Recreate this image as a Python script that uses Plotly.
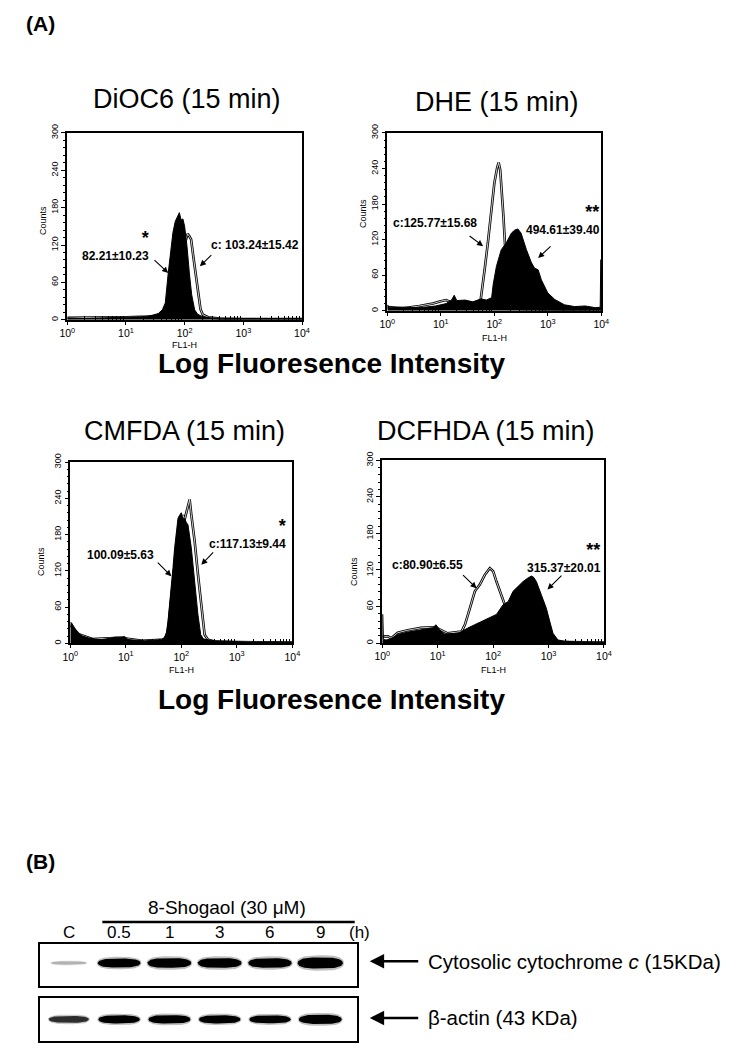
import numpy as np
import plotly.graph_objects as go

# ---------------- (A) flow cytometry histograms ----------------
# positions are log10(FL1-H), values are counts read off the picture

dioc6_ctrl_log = [0, 0.5, 1.0, 1.4, 1.6, 1.7, 1.76, 1.82, 1.88, 1.94, 1.98, 2.02, 2.05, 2.08,
                  2.11, 2.15, 2.19, 2.23, 2.27, 2.31, 2.4, 2.6, 3.0, 4.0]
dioc6_ctrl_cnt = [3, 3, 4, 5, 8, 15, 45, 90, 118, 130, 140, 128, 138, 134,
                  129, 100, 72, 45, 17, 8, 4, 2, 1, 1]
dioc6_trt_log = [0, 0.3, 0.6, 0.9, 1.1, 1.3, 1.45, 1.55, 1.62, 1.67, 1.72, 1.76, 1.8, 1.84,
                 1.88, 1.91, 1.94, 1.97, 2.0, 2.04, 2.08, 2.12, 2.17, 2.22, 2.3, 2.45, 2.7,
                 3.0, 3.5, 4.0]
dioc6_trt_cnt = [3, 2, 3, 4, 4, 5, 7, 10, 16, 27, 75, 112, 140, 158,
                 165, 172, 160, 162, 150, 118, 75, 40, 16, 9, 5, 3, 2,
                 2, 1, 2]

dhe_ctrl_log = [0, 0.3, 0.6, 0.85, 1.0, 1.1, 1.2, 1.35, 1.5, 1.65, 1.74, 1.78, 1.82, 1.88,
                1.94, 2.0, 2.05, 2.08, 2.11, 2.14, 2.17, 2.2, 2.23, 2.26, 2.3, 2.36, 2.5,
                3.0, 4.0]
dhe_ctrl_cnt = [6, 4, 8, 12, 16, 18, 14, 12, 12, 12, 15, 40, 70, 115,
                170, 215, 240, 250, 238, 205, 160, 112, 72, 45, 15, 5, 3,
                2, 1]
dhe_trt_log = [0, 0.05, 0.3, 0.6, 0.9, 1.1, 1.2, 1.25, 1.3, 1.45, 1.6, 1.75, 1.85, 1.95,
               1.98, 2.04, 2.13, 2.22, 2.32, 2.38, 2.44, 2.5, 2.6, 2.69, 2.75, 2.82, 2.88,
               3.0, 3.13, 3.31, 3.5, 3.7, 3.9, 3.98, 3.99, 4.0]
dhe_trt_cnt = [10, 5, 6, 5, 8, 12, 18, 26, 17, 18, 15, 20, 18, 22,
               45, 75, 103, 114, 131, 136, 138, 131, 103, 82, 72, 69, 52,
               30, 19, 10, 7, 8, 5, 6, 86, 86]

cmfda_ctrl_log = [0, 0.15, 0.4, 0.9, 1.3, 1.7, 1.76, 1.82, 1.88, 1.94, 2.0, 2.03, 2.06, 2.1,
                  2.15, 2.18, 2.24, 2.3, 2.36, 2.42, 2.48, 2.6, 3.0, 4.0]
cmfda_ctrl_cnt = [30, 15, 7, 9, 4, 6, 20, 70, 130, 185, 205, 212, 205, 222,
                  238, 213, 169, 114, 64, 14, 6, 3, 2, 1]
cmfda_trt_log = [0, 0.02, 0.08, 0.14, 0.22, 0.32, 0.45, 0.56, 0.7, 0.8, 0.9, 0.98, 1.04, 1.2,
                 1.34, 1.5, 1.64, 1.7, 1.73, 1.76, 1.79, 1.82, 1.85, 1.88, 1.91, 1.94, 1.97,
                 2.0, 2.03, 2.06, 2.09, 2.12, 2.18, 2.24, 2.3, 2.35, 2.4, 2.6, 2.84, 3.2,
                 3.6, 4.0]
cmfda_trt_cnt = [34, 34, 25, 17, 12, 9, 7, 6, 8, 10, 10, 11, 6, 5,
                 4, 5, 6, 10, 17, 36, 62, 92, 125, 158, 185, 207, 212,
                 216, 205, 207, 200, 196, 158, 103, 47, 14, 7, 4, 3, 2,
                 2, 1]

dcfhda_ctrl_log = [0, 0.04, 0.1, 0.16, 0.28, 0.46, 0.7, 0.9, 1.0, 1.18, 1.43, 1.49, 1.58, 1.67,
                   1.76, 1.85, 1.94, 2.0, 2.06, 2.15, 2.21, 2.27, 2.35, 2.45, 2.6, 2.8, 3.0,
                   4.0]
dcfhda_ctrl_cnt = [10, 11, 11, 8, 17, 21, 25, 26, 24, 16, 19, 30, 57, 85,
                   96, 112, 123, 118, 101, 79, 63, 52, 35, 18, 8, 4, 2,
                   1]
dcfhda_trt_log = [0, 0.01, 0.02, 0.07, 0.16, 0.28, 0.46, 0.58, 0.76, 0.91, 0.97, 1.03, 1.12, 1.25,
                  1.37, 1.55, 1.73, 1.91, 2.06, 2.18, 2.27, 2.36, 2.45, 2.54, 2.63, 2.69, 2.73,
                  2.78, 2.87, 2.96, 3.02, 3.08, 3.17, 3.29, 3.5, 3.8, 4.0]
dcfhda_trt_cnt = [47, 47, 6, 5, 7, 14, 18, 20, 22, 25, 30, 22, 15, 16,
                  16, 25, 33, 41, 47, 63, 68, 85, 93, 101, 107, 110, 108,
                  101, 79, 57, 36, 16, 5, 3, 2, 1, 1]

panel_titles = ["DiOC6 (15 min)", "DHE (15 min)", "CMFDA (15 min)", "DCFHDA (15 min)"]
treated_labels = ["82.21±10.23", "494.61±39.40", "100.09±5.63", "315.37±20.01"]
control_labels = ["c: 103.24±15.42", "c:125.77±15.68", "c:117.13±9.44", "c:80.90±6.55"]
significance = ["*", "**", "*", "**"]

# ---------------- (B) western blot ----------------
lanes = ["C", "0.5", "1", "3", "6", "9"]
cytc_level = [0.2, 0.78, 0.86, 0.86, 0.84, 1.0]
actin_level = [0.55, 0.68, 0.72, 0.68, 0.66, 0.8]

FONT = "Liberation Sans, Arial, sans-serif"

fig = go.Figure()

panels = [
    dict(ctrl=(dioc6_ctrl_log, dioc6_ctrl_cnt), trt=(dioc6_trt_log, dioc6_trt_cnt),
         xd=[0.0809, 0.4011], yd=[0.7031, 0.8810], title=(0.2442, 0.9133),
         fl1=(0.2409, 0.6795), counts=(0.0477, 0.7981),
         trt_txt=(0.83, 107), trt_arrow=((1.46, 98), (1.72, 75)), star_on="trt",
         ctl_txt=(3.2, 120), ctl_arrow=((2.48, 106), (2.26, 86))),
    dict(ctrl=(dhe_ctrl_log, dhe_ctrl_cnt), trt=(dhe_trt_log, dhe_trt_cnt),
         xd=[0.5175, 0.8094], yd=[0.7117, 0.8810], title=(0.6678, 0.9105),
         fl1=(0.6635, 0.6857), counts=(0.4843, 0.8048),
         trt_txt=(3.28, 141), trt_arrow=((3.08, 111), (2.82, 89)), star_on="trt",
         ctl_txt=(0.886, 148), ctl_arrow=((1.51, 128), (1.79, 109))),
    dict(ctrl=(cmfda_ctrl_log, cmfda_ctrl_cnt), trt=(cmfda_trt_log, cmfda_trt_cnt),
         xd=[0.0850, 0.3879], yd=[0.3950, 0.5676], title=(0.2411, 0.5971),
         fl1=(0.2365, 0.3700), counts=(0.0450, 0.4733),
         trt_txt=(0.91, 146), trt_arrow=((1.55, 136), (1.82, 111)), star_on="ctl",
         ctl_txt=(3.20, 169), ctl_arrow=((2.6, 153), (2.36, 130))),
    dict(ctrl=(dcfhda_ctrl_log, dcfhda_ctrl_cnt), trt=(dcfhda_trt_log, dcfhda_trt_cnt),
         xd=[0.5106, 0.8131], yd=[0.3952, 0.5692], title=(0.6521, 0.5971),
         fl1=(0.6619, 0.3700), counts=(0.4720, 0.4638),
         trt_txt=(3.28, 128), trt_arrow=((3.26, 113), (2.98, 88)), star_on="trt",
         ctl_txt=(0.82, 128), ctl_arrow=((1.43, 114), (1.70, 90))),
]


def label(x, y, text, size, xref="paper", yref="paper", xanchor="center", **kw):
    return dict(x=x, y=y, xref=xref, yref=yref, text=text, showarrow=False,
                xanchor=xanchor, yanchor="middle",
                font=dict(family=kw.pop("family", FONT), size=size, color="black"), **kw)


annotations = []
layout_axes = {}
major = [1, 10, 100, 1000, 10000]
minor_x = [k * 10 ** d for d in range(4) for k in range(2, 10)]

for i, p in enumerate(panels):
    n = i + 1
    xa, ya = ("x", "y") if n == 1 else (f"x{n}", f"y{n}")
    # control: open outline (double line look)
    cx = 10 ** np.array(p["ctrl"][0])
    fig.add_trace(go.Scatter(x=cx, y=p["ctrl"][1], mode="lines", xaxis=xa, yaxis=ya,
                             line=dict(color="black", width=2.6), hoverinfo="skip"))
    fig.add_trace(go.Scatter(x=cx, y=p["ctrl"][1], mode="lines", xaxis=xa, yaxis=ya,
                             line=dict(color="white", width=0.8), hoverinfo="skip"))
    # treated: solid black histogram
    fig.add_trace(go.Scatter(x=10 ** np.array(p["trt"][0]), y=p["trt"][1], mode="lines",
                             fill="tozeroy", fillcolor="black", xaxis=xa, yaxis=ya,
                             line=dict(color="black", width=1), hoverinfo="skip"))

    layout_axes["xaxis" if n == 1 else f"xaxis{n}"] = dict(
        domain=p["xd"], anchor=ya, type="log", range=[0, 4], automargin=False,
        tickvals=major, ticktext=[f"10<sup>{k}</sup>" for k in range(5)],
        ticks="outside", ticklen=3, tickwidth=1.2, tickcolor="black",
        minor=dict(tickvals=minor_x, ticks="inside", ticklen=4, tickcolor="black"),
        showline=True, linecolor="black", linewidth=1.6, mirror=True,
        showgrid=False, zeroline=False,
        tickfont=dict(family=FONT, size=10.5, color="black"),
    )
    layout_axes["yaxis" if n == 1 else f"yaxis{n}"] = dict(
        domain=p["yd"], anchor=xa, range=[0, 300], automargin=False,
        tickvals=[0, 60, 120, 180, 240, 300], tickangle=-90,
        ticks="outside", ticklen=4, tickwidth=1.2, tickcolor="black",
        minor=dict(dtick=12, ticks="outside", ticklen=2, tickcolor="black"),
        showline=True, linecolor="black", linewidth=1.6, mirror=True,
        showgrid=False, zeroline=False,
        tickfont=dict(family=FONT, size=9, color="black"),
    )

    annotations.append(label(p["title"][0], p["title"][1], panel_titles[i], 27))
    annotations.append(label(p["fl1"][0], p["fl1"][1], "FL1-H", 9))
    annotations.append(label(p["counts"][0], p["counts"][1], "Counts", 9, textangle=-90))
    for key, txt in (("trt", treated_labels[i]), ("ctl", control_labels[i])):
        pos = p[key + "_txt"]
        if p["star_on"] == key:
            # significance mark sits right-aligned on the line above the value
            text = (f"<span style='font-size:18px'><b>{significance[i]}</b></span>"
                    f"<br><b>{txt}</b>")
            annotations.append(label(pos[0], pos[1], text, 12, xref=xa, yref=ya,
                                     align="right", yshift=8))
        else:
            annotations.append(label(pos[0], pos[1], f"<b>{txt}</b>", 12, xref=xa, yref=ya))
    for tail, head in (p["trt_arrow"], p["ctl_arrow"]):
        annotations.append(dict(x=head[0], y=head[1], ax=tail[0], ay=tail[1], xref=xa, yref=ya,
                                axref=xa, ayref=ya, text="", showarrow=True, arrowhead=2,
                                arrowsize=1.1, arrowwidth=1.1, arrowcolor="black"))

for yy in (0.6612, 0.3410):
    annotations.append(label(0.4407, yy, "<b>Log Fluoresence Intensity</b>", 28))

annotations.append(label(0.0437, 0.985, "<b>(A)</b>", 21))
annotations.append(label(0.0437, 0.1875, "<b>(B)</b>", 21))

# ---- blot bands ----
theta = np.linspace(0, 2 * np.pi, 80)
ux = np.sign(np.cos(theta)) * np.abs(np.cos(theta)) ** (2 / 3.2)
uy = np.sign(np.sin(theta)) * np.abs(np.sin(theta)) ** (2 / 2.2)


def gray(v, soften=1.0):
    g = 255 * (1 - min(1.0, 1.5 * v) * soften)
    g = int(round(g))
    return f"rgb({g},{g},{g})"


for levels, xa, ya, yc in ((cytc_level, "x5", "y5", 0.1), (actin_level, "x6", "y6", 0.0)):
    for k, v in enumerate(levels):
        a = 0.33 + 0.12 * v
        b = 0.04 + 0.22 * v
        fig.add_trace(go.Scatter(x=k + a * 1.05 * ux, y=yc + b * 1.4 * uy, mode="lines",
                                 fill="toself", fillcolor=gray(v, 0.25), line=dict(width=0),
                                 xaxis=xa, yaxis=ya, hoverinfo="skip"))
        fig.add_trace(go.Scatter(x=k + a * ux, y=yc + b * uy, mode="lines", fill="toself",
                                 fillcolor=gray(v), line=dict(width=0), xaxis=xa, yaxis=ya,
                                 hoverinfo="skip"))

blot_x = [0.0432, 0.4761]
for n, yd in ((5, [0.0683, 0.1086]), (6, [0.0165, 0.0571])):
    layout_axes[f"xaxis{n}"] = dict(domain=blot_x, anchor=f"y{n}", range=[-0.58, 5.73],
                                    automargin=False,
                                    showline=True, mirror=True, linecolor="black", linewidth=1.8,
                                    showticklabels=False, ticks="", showgrid=False, zeroline=False)
    layout_axes[f"yaxis{n}"] = dict(domain=yd, anchor=f"x{n}", range=[-1, 1],
                                    automargin=False,
                                    showline=True, mirror=True, linecolor="black", linewidth=1.8,
                                    showticklabels=False, ticks="", showgrid=False, zeroline=False)

for k, lab in enumerate(lanes):
    annotations.append(label(k, 0.12, lab, 17, xref="x5"))
annotations.append(label(0.4798, 0.12, "(h)", 17))
annotations.append(label(0.2988, 0.1438, "8-Shogaol (30 μM)", 19))

for yy, lab in ((0.0921, "Cytosolic cytochrome <i>c</i> (15KDa)"), (0.0381, "β-actin (43 KDa)")):
    annotations.append(dict(x=0.4935, y=yy, xref="paper", yref="paper", ax=50, ay=0,
                            text="", showarrow=True, arrowhead=2, arrowsize=1.2,
                            arrowwidth=2.4, arrowcolor="black"))
    annotations.append(label(0.5707, yy, lab, 20.5, xanchor="left"))

fig.update_layout(
    width=733, height=1050, margin=dict(l=0, r=0, t=0, b=0),
    paper_bgcolor="white", plot_bgcolor="white", showlegend=False,
    font=dict(family=FONT, color="black"),
    annotations=annotations,
    shapes=[dict(type="line", xref="paper", yref="paper", x0=0.1287, x1=0.473,
                 y0=0.1295, y1=0.1295, line=dict(color="black", width=2.5))],
    hovermode=False,
    **layout_axes,
)

fig.write_html("out.html")
